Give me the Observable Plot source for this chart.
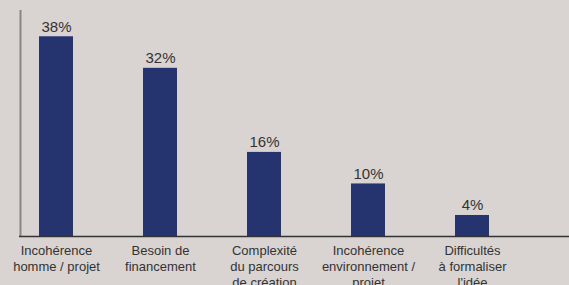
<!DOCTYPE html>
<html>
<head>
<meta charset="utf-8">
<script src="https://cdn.jsdelivr.net/npm/d3@7"></script>
<script src="https://cdn.jsdelivr.net/npm/@observablehq/plot@0.6"></script>
<style>
  html, body { margin: 0; padding: 0; background: #d9d4d1; }
  #chart { width: 569px; height: 285px; overflow: hidden; }
</style>
</head>
<body>
<div id="chart"></div>
<script>
const categories = [
  "Incohérence\nhomme / projet",
  "Besoin de\nfinancement",
  "Complexité\ndu parcours\nde création",
  "Incohérence\nenvironnement /\nprojet",
  "Difficultés\nà formaliser\nl'idée"
];
const values = [38, 32, 16, 10, 4];
const valueLabels = ["38%", "32%", "16%", "10%", "4%"];

const data = categories.map((c, i) => ({cat: c, value: values[i], label: valueLabels[i]}));

const chart = Plot.plot({
  width: 569,
  height: 285,
  marginLeft: 19,
  marginRight: 0,
  marginTop: 10,
  marginBottom: 49,
  style: {background: "#d9d4d1", fontFamily: "Liberation Sans, Arial, sans-serif", overflow: "visible"},
  x: {domain: categories, range: [19, 508], paddingInner: 0.674, paddingOuter: 0.182, axis: null},
  y: {domain: [0, 43], axis: null},
  marks: [
    Plot.barY(data, {x: "cat", y: "value", fill: "#25346f"}),
    Plot.text(data, {x: "cat", y: "value", text: "label", lineAnchor: "bottom", dy: -5, fontSize: 15, fill: "#333"}),
    Plot.text(data, {x: "cat", y: 0, text: "cat", lineAnchor: "top", dy: 7, fontSize: 13, lineHeight: 1.23, fill: "#333"}),
    Plot.ruleX([categories[0]], {y1: 0, y2: 43, dx: -36, stroke: "#8a8684", strokeWidth: 2}),
    Plot.ruleY([0], {stroke: "#333", strokeWidth: 1.5})
  ]
});
document.getElementById("chart").appendChild(chart);
</script>
</body>
</html>
